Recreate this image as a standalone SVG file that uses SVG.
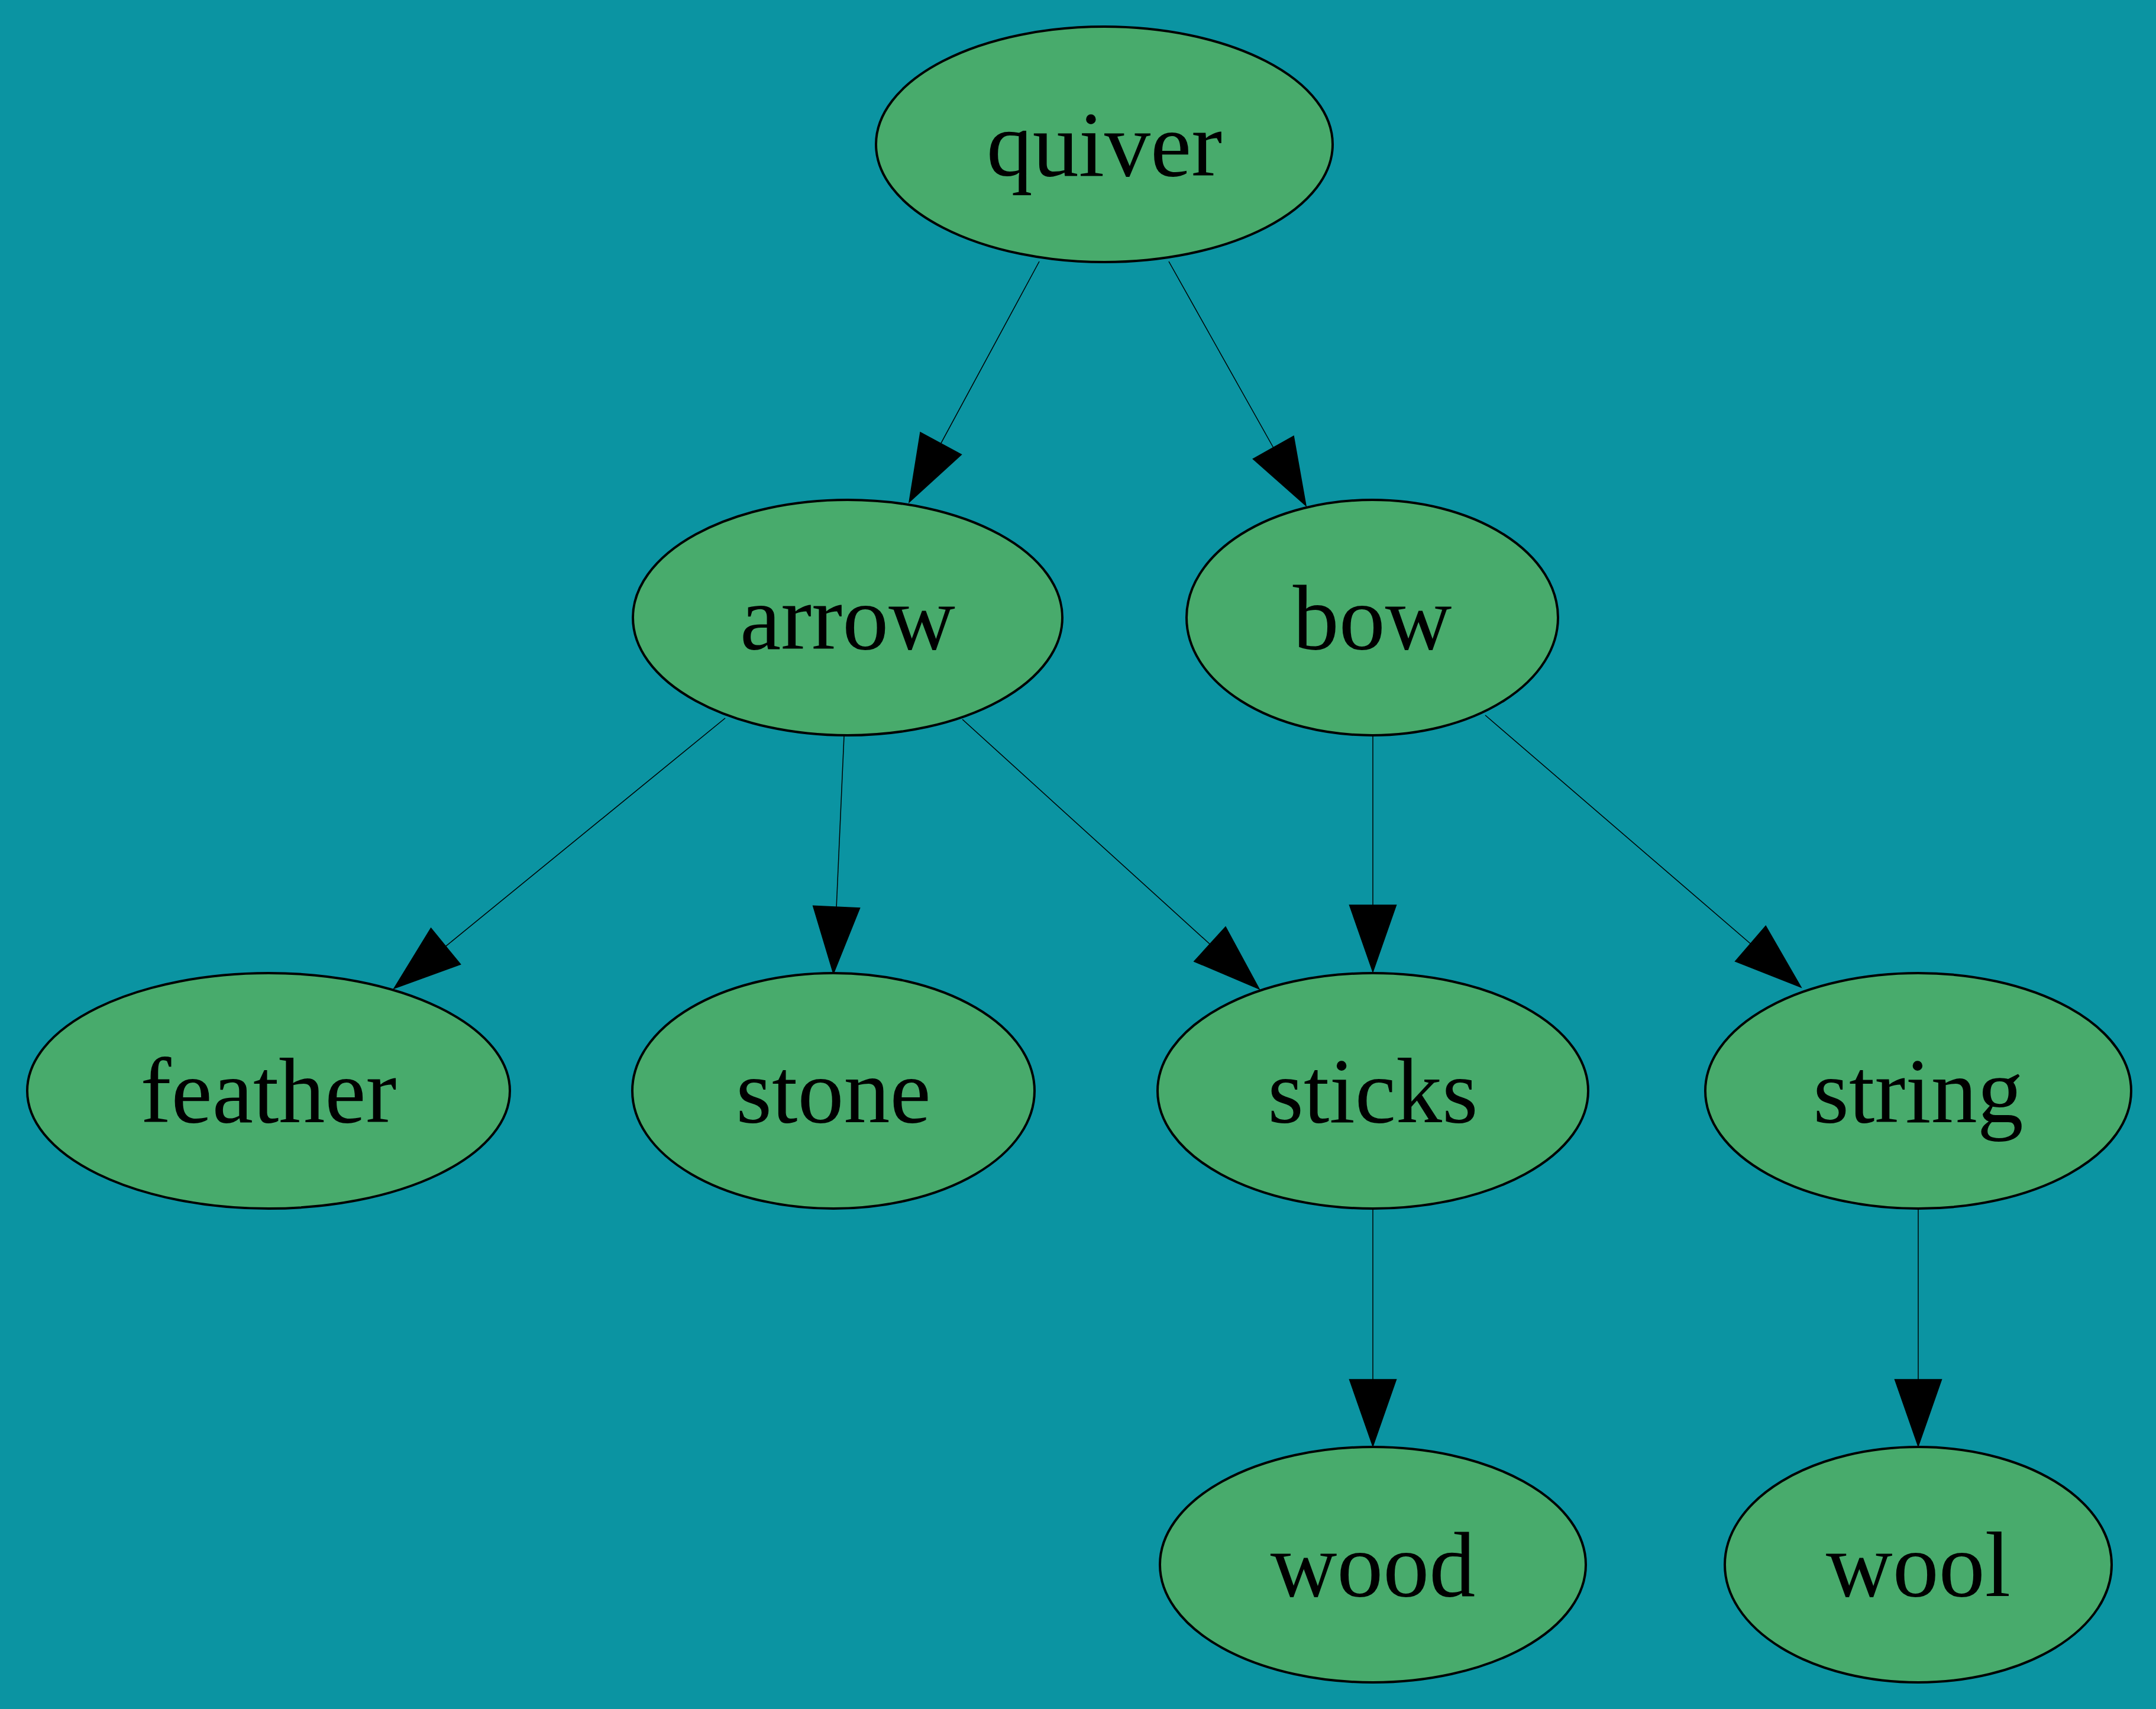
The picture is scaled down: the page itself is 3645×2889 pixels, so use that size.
<svg xmlns="http://www.w3.org/2000/svg" width="3645" height="2889" viewBox="0 0 3645 2889">
<style>
.node ellipse{fill:#48ab6c;stroke:#000;stroke-width:4}
.node text{font-family:"Liberation Serif","Times New Roman",serif;font-size:156px;fill:#000;text-anchor:middle}
.edge line{stroke:#000;stroke-width:1.5}
.edge polygon{fill:#000;stroke:#000;stroke-width:1.5}
</style>
<rect x="0" y="0" width="3645" height="2889" fill="#0b94a2"/>
<g id="connectors">
<g class="edge" id="quiver-arrow"><line x1="1757" y1="442" x2="1590.7" y2="749.6"/><polygon points="1556.0,730.8 1537,849 1625.4,768.4"/></g>
<g class="edge" id="quiver-bow"><line x1="1976" y1="442" x2="2152.7" y2="756.5"/><polygon points="2118.3,775.8 2208,855 2187.1,737.2"/></g>
<g class="edge" id="arrow-feather"><line x1="1226" y1="1214" x2="753.6" y2="1599.6"/><polygon points="728.6,1569.0 666,1671 778.6,1630.2"/></g>
<g class="edge" id="arrow-stone"><line x1="1427" y1="1244" x2="1414.1" y2="1533.1"/><polygon points="1374.6,1531.3 1409,1646 1453.6,1534.9"/></g>
<g class="edge" id="arrow-sticks"><line x1="1627" y1="1216" x2="2045.4" y2="1596.0"/><polygon points="2018.8,1625.2 2129,1672 2072.0,1566.8"/></g>
<g class="edge" id="bow-sticks"><line x1="2321" y1="1244" x2="2321" y2="1530"/><polygon points="2281.5,1530 2321,1643 2360.5,1530"/></g>
<g class="edge" id="bow-string"><line x1="2511" y1="1209" x2="2959.4" y2="1595.2"/><polygon points="2933.6,1625.1 3045,1669 2985.2,1565.3"/></g>
<g class="edge" id="sticks-wood"><line x1="2321" y1="2044" x2="2321" y2="2332"/><polygon points="2281.5,2332 2321,2445 2360.5,2332"/></g>
<g class="edge" id="string-wool"><line x1="3243" y1="2044" x2="3243" y2="2332"/><polygon points="3203.5,2332 3243,2445 3282.5,2332"/></g>
</g>
<g class="node" id="quiver"><ellipse cx="1867" cy="244" rx="386" ry="199"/><text x="1867" y="297">quiver</text></g>
<g class="node" id="arrow"><ellipse cx="1433" cy="1044" rx="363" ry="199"/><text x="1433" y="1097">arrow</text></g>
<g class="node" id="bow"><ellipse cx="2320" cy="1044" rx="314" ry="199"/><text x="2320" y="1097">bow</text></g>
<g class="node" id="feather"><ellipse cx="454" cy="1844" rx="408" ry="199"/><text x="454" y="1897">feather</text></g>
<g class="node" id="stone"><ellipse cx="1409" cy="1844" rx="340" ry="199"/><text x="1409" y="1897">stone</text></g>
<g class="node" id="sticks"><ellipse cx="2321" cy="1844" rx="364" ry="199"/><text x="2321" y="1897">sticks</text></g>
<g class="node" id="string"><ellipse cx="3243" cy="1844" rx="360" ry="199"/><text x="3243" y="1897">string</text></g>
<g class="node" id="wood"><ellipse cx="2321" cy="2645" rx="360" ry="199"/><text x="2321" y="2698">wood</text></g>
<g class="node" id="wool"><ellipse cx="3243" cy="2645" rx="327" ry="199"/><text x="3243" y="2698">wool</text></g>
</svg>
